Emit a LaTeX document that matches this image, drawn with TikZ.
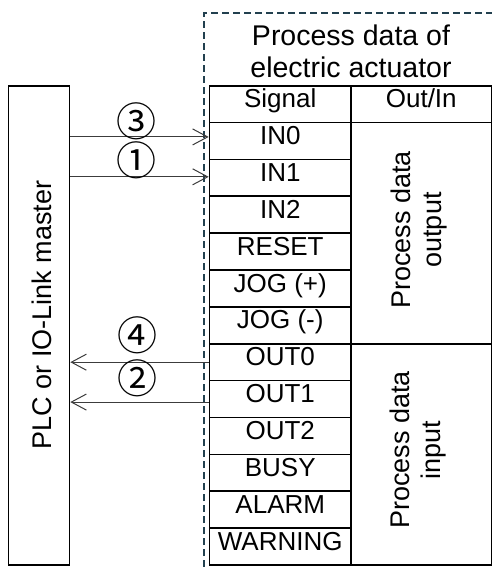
\documentclass[tikz,border=0pt]{standalone}
\usepackage{fontspec}
\setmainfont{Liberation Sans}
\newfontfamily\circfont{Noto Sans CJK JP}
\usetikzlibrary{arrows.meta,calc}
\definecolor{dashcol}{HTML}{22404F}
\definecolor{arrcol}{HTML}{3C3C3C}
\begin{document}
\begin{tikzpicture}[x=1pt,y=-1pt,
  cell/.style={draw,line width=1.6pt,minimum width=141.5pt,minimum height=36.875pt,inner sep=0pt,
    font=\fontsize{26}{29}\selectfont,text height=0.8em,text depth=0.084em},
  grp/.style={draw,line width=1.6pt,minimum width=140.5pt,minimum height=221.25pt,inner sep=0pt},
  rot/.style={rotate=90,align=center,inner sep=0pt,font=\fontsize{27}{31}\selectfont},
  circ/.style={inner sep=0pt,font=\circfont\fontsize{40}{42}\selectfont},
  arr/.style={arrcol,line width=1pt,-{Straight Barb[length=15pt,width=16pt,line width=1pt]}},
  frame/.style={dashcol,line width=1.3pt,dash pattern=on 7pt off 4pt}]
\useasboundingbox (0,0) rectangle (492,567);
% dashed frame
\draw[frame] (204,567) -- (204,13) -- (492,13);
% title
\node[font=\fontsize{28.5}{31.7}\selectfont,align=center,inner sep=0pt] (title) at (351,51) {Process data of\\electric actuator};
% header
\node[cell] (sig) at (280.25,104.25) {Signal};
\node[cell,minimum width=140.5pt] (oi) at (421.25,104.25) {Out/In};
% rows
\foreach \n/\t [count=\k] in {in0/IN0,in1/IN1,in2/IN2,reset/RESET,jogp/JOG (+),jogm/JOG (-),out0/OUT0,out1/OUT1,out2/OUT2,busy/BUSY,alarm/ALARM,warning/WARNING}
  \node[cell] (\n) at (280.25,{122.5+36.875*(\k-0.5)}) {\t};
% groups
\node[grp] (outgrp) at (421.25,233.1) {};
\node[grp] (ingrp) at (421.25,454.4) {};
\node[rot] (outtxt) at (419,230) {Process data\\output};
\node[rot] (intxt) at (418,450) {Process data\\input};
% PLC
\node[draw,line width=1.6pt,minimum width=61pt,minimum height=479pt,inner sep=0pt] (plc) at (39,325.5) {};
\node[rotate=90,inner sep=0pt,font=\fontsize{27}{30}\selectfont] (plctxt) at (41.7,315) {PLC or IO-Link master};
% arrows
\draw[arr] ($(plc.east |- in0.west)+(0,-4)$) -- ($(in0.west)+(0,-4)$);
\draw[arr] ($(plc.east |- in1.west)+(0,-1)$) -- ($(in1.west)+(0,-1)$);
\draw[arr] (out0.west) -- (plc.east |- out0.west);
\draw[arr] ($(out1.west)+(0,3)$) -- ($(plc.east |- out1.west)+(0,3)$);
% labels
\node[circ] (l3) at (136.5,121) {③};
\node[circ] (l1) at (136.5,160) {①};
\node[circ] (l4) at (137,335) {④};
\node[circ] (l2) at (137,378) {②};
\end{tikzpicture}
\end{document}
